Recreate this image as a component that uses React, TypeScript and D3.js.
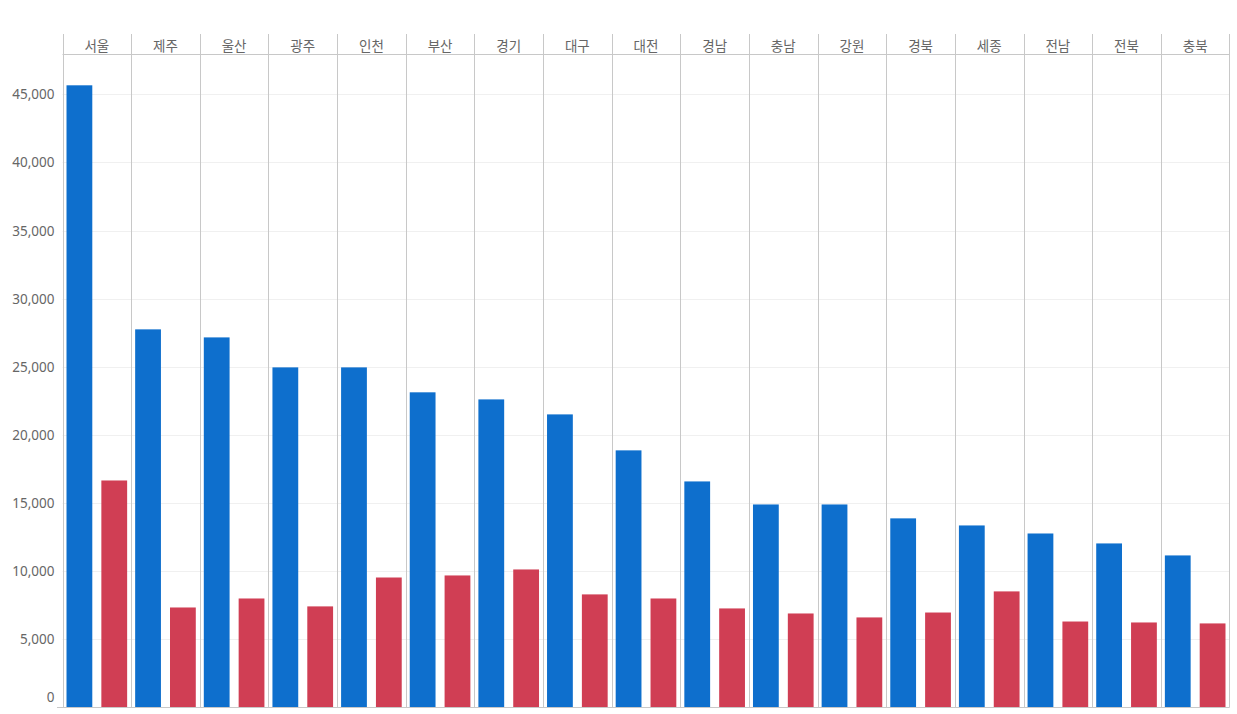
import React from "react";
import * as d3 from "d3";

const regions = ["서울", "제주", "울산", "광주", "인천", "부산", "경기", "대구", "대전", "경남", "충남", "강원", "경북", "세종", "전남", "전북", "충북"];
const blueValues = [45660, 27750, 27160, 24960, 24960, 23130, 22610, 21510, 18870, 16590, 14900, 14900, 13880, 13360, 12770, 12040, 11160];
const redValues = [16660, 7340, 8000, 7420, 9540, 9690, 10130, 8300, 8000, 7270, 6900, 6610, 6970, 8520, 6310, 6240, 6170];
const yTicks = [0, 5000, 10000, 15000, 20000, 25000, 30000, 35000, 40000, 45000];
const seriesKeys = ["blue", "red"];

const W = 1237;
const H = 714;
const left = 62.5;
const right = 1229.5;
const headerTop = 34;
const headerBottom = 54.5;
const bottom = 707.5;

const BLUE = "#0e6fcd";
const RED = "#d03e54";

export default function App() {
  const x = d3.scaleBand<string>().domain(regions).range([left, right]).paddingInner(0).paddingOuter(0);
  const sub = d3.scaleBand<string>().domain(seriesKeys).range([0, x.bandwidth()]).paddingInner(0.26).paddingOuter(0.115);
  const y = d3.scaleLinear().domain([0, 45000]).range([bottom, 94.3]);
  const fmt = d3.format(",");
  const font = "'Noto Sans', 'Noto Sans CJK KR', sans-serif";

  return (
    <svg width={W} height={H} style={{ position: "absolute", left: 0, top: 0, background: "#fff" }}>
      {/* gridlines */}
      {yTicks.filter((t) => t > 0).map((t) => (
        <line key={t} x1={left} x2={right} y1={Math.round(y(t)) + 0.5} y2={Math.round(y(t)) + 0.5} stroke="#f0f0f0" strokeWidth={1} />
      ))}
      {/* bars */}
      {regions.map((r, i) => (
        <g key={r}>
          <rect x={(x(r) as number) + (sub("blue") as number)} y={y(blueValues[i])} width={sub.bandwidth()} height={bottom - y(blueValues[i])} fill={BLUE} />
          <rect x={(x(r) as number) + (sub("red") as number)} y={y(redValues[i])} width={sub.bandwidth()} height={bottom - y(redValues[i])} fill={RED} />
        </g>
      ))}
      {/* column separators */}
      {regions.map((r) => (
        <line key={"s" + r} x1={Math.round(x(r) as number) + 0.5} x2={Math.round(x(r) as number) + 0.5} y1={headerTop} y2={bottom} stroke="#c8c8c8" strokeWidth={1} />
      ))}
      <line x1={right} x2={right} y1={headerTop} y2={bottom} stroke="#c8c8c8" strokeWidth={1} />
      {/* header line */}
      <line x1={left} x2={right} y1={headerBottom} y2={headerBottom} stroke="#c8c8c8" strokeWidth={1} />
      {/* bottom axis line */}
      <line x1={57} x2={right} y1={bottom} y2={bottom} stroke="#c8c8c8" strokeWidth={1} />
      {/* header labels */}
      {regions.map((r) => (
        <text key={"h" + r} x={(x(r) as number) + x.bandwidth() / 2} y={44.5} textAnchor="middle" dominantBaseline="central" fontFamily="'Noto Sans CJK KR', sans-serif" fontSize={13.5} fill="#666">
          {r}
        </text>
      ))}
      {/* y tick labels */}
      {yTicks.map((t) => (
        <text key={"t" + t} x={54.5} y={t === 0 ? 697 : y(t)} textAnchor="end" dominantBaseline="central" fontFamily={font} fontSize={13.5} fill="#666">
          {fmt(t)}
        </text>
      ))}
    </svg>
  );
}
